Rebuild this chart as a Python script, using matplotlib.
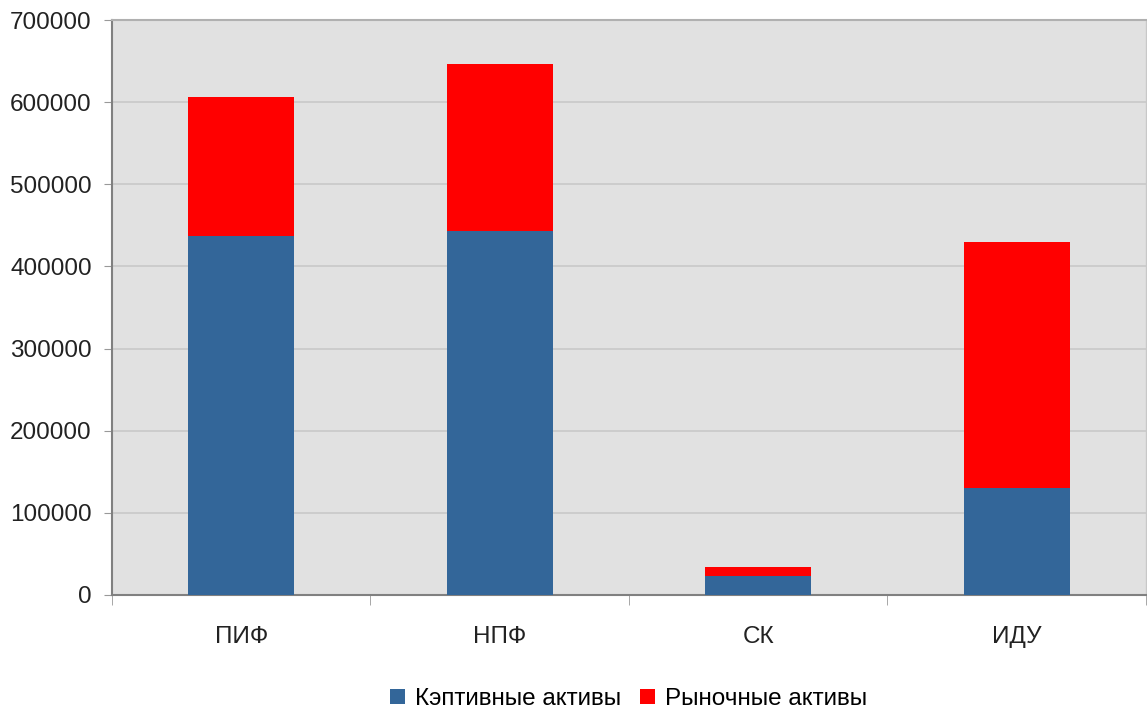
import numpy as np
import matplotlib.pyplot as plt

plt.rcParams['font.family'] = ['Liberation Sans', 'DejaVu Sans']

categories = ['ПИФ', 'НПФ', 'СК', 'ИДУ']
captive = [437000, 443000, 23500, 130000]
market = [169000, 203000, 11000, 300000]
series_labels = ['Кэптивные активы', 'Рыночные активы']
colors = ['#336699', '#ff0000']

fig = plt.figure(figsize=(11.47, 7.16), dpi=100)
ax = fig.add_axes([0.0976, 0.169, 0.9015, 0.803])
ax.set_facecolor('#e1e1e1')

x = np.arange(len(categories))
ax.bar(x, captive, width=0.41, color=colors[0], label=series_labels[0], zorder=3)
ax.bar(x, market, width=0.41, bottom=captive, color=colors[1], label=series_labels[1], zorder=3)

ax.set_xlim(-0.5, 3.5)
ax.set_ylim(0, 700000)
ax.set_yticks(range(0, 700001, 100000))
ax.yaxis.grid(True, color='#c8c8c8', linewidth=1.2, zorder=0)
ax.tick_params(axis='y', labelsize=17.5, length=6, color='#999999', labelcolor='#222222', pad=8.5)

ax.set_xticks(x)
ax.set_xticklabels(categories)
ax.set_xticks(np.arange(-0.5, 4, 1), minor=True)
ax.tick_params(axis='x', which='major', length=0, labelsize=17.5, labelcolor='#222222', pad=22.5)
ax.tick_params(axis='x', which='minor', length=7, color='#999999')

for s in ['left', 'bottom']:
    ax.spines[s].set_color('#808080')
    ax.spines[s].set_linewidth(1.5)
ax.spines['top'].set_color('#b0b0b0')
ax.spines['top'].set_linewidth(1.5)
ax.spines['right'].set_color('#c8c8c8')
ax.spines['right'].set_linewidth(1)

fig.legend(loc='lower center', bbox_to_anchor=(0.548, -0.022), ncol=2, frameon=False,
           fontsize=17.5, handlelength=0.6, handleheight=0.6, handletextpad=0.4,
           columnspacing=0.8)

fig.savefig('out.png', dpi=100)
